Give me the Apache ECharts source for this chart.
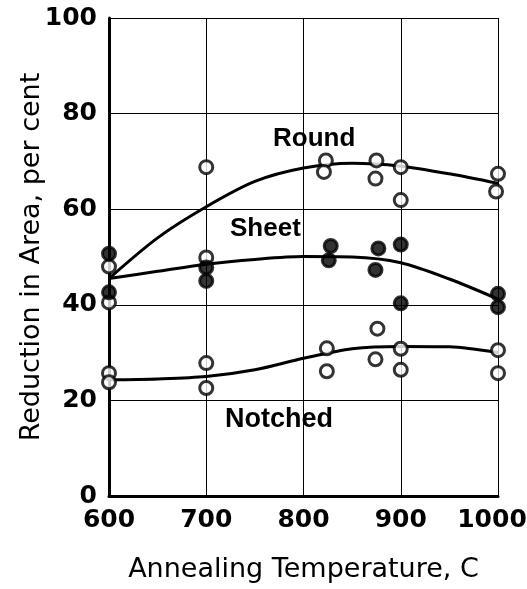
<!DOCTYPE html>
<html>
<head>
<meta charset="utf-8">
<script src="https://cdn.jsdelivr.net/npm/echarts@6/dist/echarts.min.js"></script>
<style>
  html, body { margin: 0; padding: 0; background: #fff; }
  #chart { width: 527px; height: 589px; }
</style>
</head>
<body>
<div id="chart"></div>
<script>
// measured points, temperature (C) vs reduction in area (%)
var roundT = [600, 600, 700, 700, 823, 821, 875, 874, 900, 900, 1000, 998];
var roundV = [48, 40.5, 68.8, 49.9, 70.2, 67.8, 70.2, 66.4, 68.8, 61.9, 67.4, 63.7];

var sheetT = [600, 600, 700, 700, 828, 826, 877, 874, 900, 900, 1000, 1000];
var sheetV = [50.7, 42.6, 47.8, 45, 52.3, 49.3, 51.8, 47.3, 52.6, 40.3, 42.3, 39.5];

var notchedT = [600, 600, 700, 700, 824, 824, 876, 874, 900, 900, 1000, 1000];
var notchedV = [25.7, 23.8, 27.8, 22.6, 30.9, 26.1, 35.0, 28.6, 30.8, 26.4, 30.5, 25.7];

// faired curves
var curveT = [600, 650, 700, 750, 800, 850, 900, 950, 1000];
var roundCurve = [45.5, 54, 60.5, 65.8, 68.6, 69.6, 69, 67.4, 65.4];
var sheetCurve = [45.5, 47, 48.5, 49.5, 50.1, 50, 48.8, 45.4, 41.2];
var notchedCurve = [24.3, 24.5, 25, 26.4, 28.8, 30.8, 31.3, 31.2, 30];

var xTicks = [600, 700, 800, 900, 1000];
var yTicks = [0, 20, 40, 60, 80, 100];

function pairs(xs, ys) {
    return xs.map(function (x, i) { return [x, ys[i]]; });
}

var chart = echarts.init(document.getElementById('chart'));

var tickFont = {
    color: '#000',
    fontFamily: 'DejaVu Sans',
    fontWeight: 'bold',
    fontSize: 25
};

function curve(data) {
    return {
        type: 'line',
        data: data,
        smooth: 0.3,
        symbol: 'none',
        lineStyle: { color: '#000', width: 3 },
        z: 2
    };
}

function dots(data, filled) {
    return {
        type: 'scatter',
        data: data,
        symbol: 'circle',
        symbolSize: 13,
        itemStyle: {
            color: filled ? '#000' : '#fff',
            borderColor: '#000',
            borderWidth: 3
        },
        z: 3
    };
}

var option = {
    backgroundColor: '#fff',
    animation: false,
    grid: { left: 109, right: 29, top: 18, bottom: 93, outerBoundsMode: 'none', containLabel: false },
    xAxis: {
        type: 'value',
        min: xTicks[0],
        max: xTicks[xTicks.length - 1],
        interval: 100,
        name: 'Annealing Temperature, C',
        nameLocation: 'middle',
        nameGap: 60,
        nameMoveOverlap: false,
        nameTextStyle: {
            color: '#000',
            fontFamily: 'DejaVu Sans',
            fontSize: 27
        },
        axisLine: { lineStyle: { color: '#000', width: 3 } },
        axisTick: { show: false },
        axisLabel: Object.assign({
            margin: 12,
            formatter: function (v) {
                // last label sits a little inside the frame, as in the original
                return v === xTicks[xTicks.length - 1] ? '{last|' + v + '}' : String(v);
            },
            rich: {
                last: {
                    color: '#000',
                    fontFamily: 'DejaVu Sans',
                    fontWeight: 'bold',
                    fontSize: 25,
                    padding: [0, 12, 0, 0]
                }
            }
        }, tickFont),
        splitLine: { show: true, lineStyle: { color: '#000', width: 1 } }
    },
    yAxis: {
        type: 'value',
        min: yTicks[0],
        max: yTicks[yTicks.length - 1],
        interval: 20,
        name: 'Reduction in Area, per cent',
        nameLocation: 'middle',
        nameGap: 64,
        nameMoveOverlap: false,
        nameTextStyle: {
            color: '#000',
            fontFamily: 'DejaVu Sans',
            fontSize: 27
        },
        axisLine: { lineStyle: { color: '#000', width: 3 } },
        axisTick: { show: false },
        axisLabel: Object.assign({ margin: 12 }, tickFont),
        splitLine: { show: true, lineStyle: { color: '#000', width: 1 } }
    },
    graphic: [
        { type: 'text', left: 273, top: 126, style: { text: 'Round', fill: '#000', font: 'bold 26px "Liberation Sans"' } },
        { type: 'text', left: 230, top: 216, style: { text: 'Sheet', fill: '#000', font: 'bold 26px "Liberation Sans"' } },
        { type: 'text', left: 225, top: 406, style: { text: 'Notched', fill: '#000', font: 'bold 27px "Liberation Sans"' } }
    ],
    series: [
        curve(pairs(curveT, roundCurve)),
        curve(pairs(curveT, sheetCurve)),
        curve(pairs(curveT, notchedCurve)),
        dots(pairs(roundT, roundV), false),
        dots(pairs(sheetT, sheetV), true),
        dots(pairs(notchedT, notchedV), false)
    ]
};

chart.setOption(option);
</script>
</body>
</html>
